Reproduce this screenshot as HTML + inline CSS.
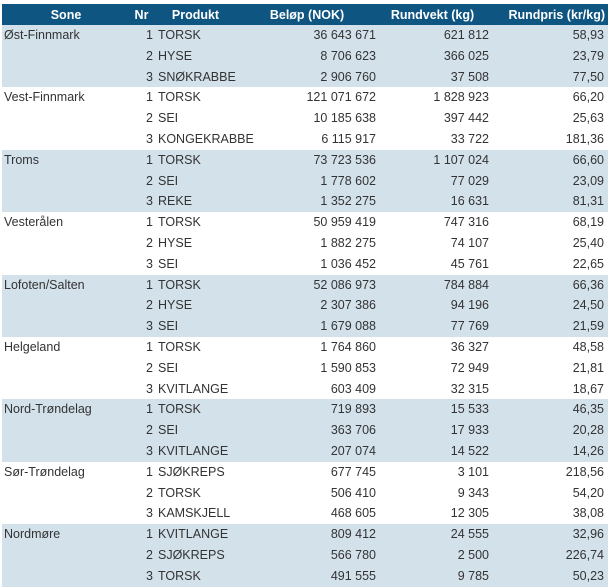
<!DOCTYPE html>
<html><head><meta charset="utf-8"><style>
body{margin:0;background:#fff;width:612px;height:586px;overflow:hidden;font-family:"Liberation Sans",sans-serif;font-size:12.5px;color:#333}
table{position:absolute;left:2px;top:4px;width:606px;border-collapse:collapse;table-layout:fixed}
th{background:#0f5582;color:#fff;font-weight:bold;height:21px;padding:0;text-align:center}
td{height:20.8px;padding:0;white-space:nowrap;line-height:20.8px}
tr.b td{background:#d3e1eb}
.r{text-align:right}
</style></head><body>
<table>
<colgroup><col style="width:128px"><col style="width:23px"><col style="width:85px"><col style="width:138px"><col style="width:113px"><col style="width:119px"></colgroup>
<tr><th>Sone</th><th>Nr</th><th>Produkt</th><th>Beløp (NOK)</th><th>Rundvekt (kg)</th><th style="text-align:right;padding-right:3px">Rundpris (kr/kg)</th></tr>
<tbody id="t"></tbody>
</table>
<script>
var d=[["Øst-Finnmark",[["TORSK","36 643 671","621 812","58,93"],["HYSE","8 706 623","366 025","23,79"],["SNØKRABBE","2 906 760","37 508","77,50"]]],
["Vest-Finnmark",[["TORSK","121 071 672","1 828 923","66,20"],["SEI","10 185 638","397 442","25,63"],["KONGEKRABBE","6 115 917","33 722","181,36"]]],
["Troms",[["TORSK","73 723 536","1 107 024","66,60"],["SEI","1 778 602","77 029","23,09"],["REKE","1 352 275","16 631","81,31"]]],
["Vesterålen",[["TORSK","50 959 419","747 316","68,19"],["HYSE","1 882 275","74 107","25,40"],["SEI","1 036 452","45 761","22,65"]]],
["Lofoten/Salten",[["TORSK","52 086 973","784 884","66,36"],["HYSE","2 307 386","94 196","24,50"],["SEI","1 679 088","77 769","21,59"]]],
["Helgeland",[["TORSK","1 764 860","36 327","48,58"],["SEI","1 590 853","72 949","21,81"],["KVITLANGE","603 409","32 315","18,67"]]],
["Nord-Trøndelag",[["TORSK","719 893","15 533","46,35"],["SEI","363 706","17 933","20,28"],["KVITLANGE","207 074","14 522","14,26"]]],
["Sør-Trøndelag",[["SJØKREPS","677 745","3 101","218,56"],["TORSK","506 410","9 343","54,20"],["KAMSKJELL","468 605","12 305","38,08"]]],
["Nordmøre",[["KVITLANGE","809 412","24 555","32,96"],["SJØKREPS","566 780","2 500","226,74"],["TORSK","491 555","9 785","50,23"]]]];
var h="";d.forEach(function(g,i){g[1].forEach(function(r,j){h+='<tr class="'+(i%2==0?'b':'')+'"><td style="padding-left:2px">'+(j==0?g[0]:'')+'</td><td class="r">'+(j+1)+'</td><td style="padding-left:5px">'+r[0]+'</td><td class="r">'+r[1]+'</td><td class="r">'+r[2]+'</td><td class="r" style="padding-right:4px">'+r[3]+'</td></tr>';});});
document.getElementById("t").innerHTML=h;
</script>
</body></html>
